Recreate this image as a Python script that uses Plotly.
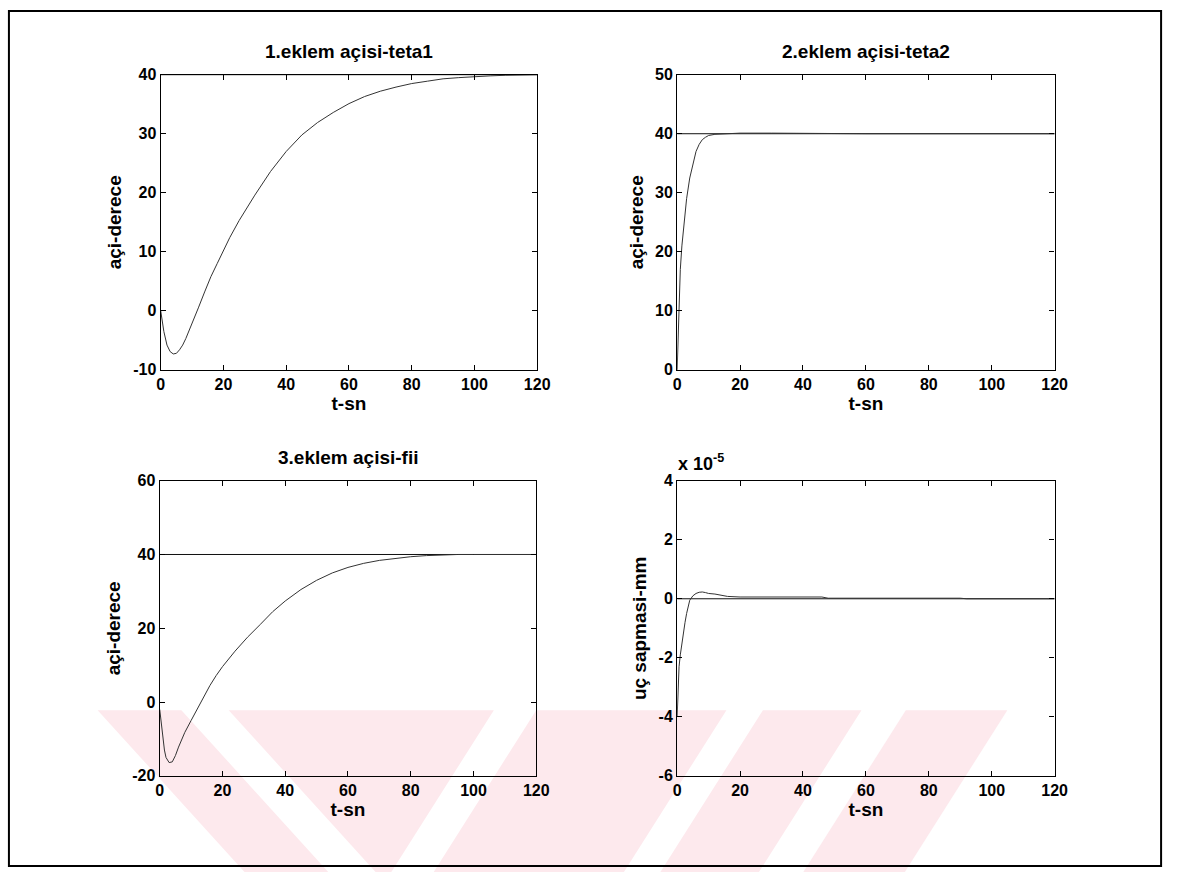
import plotly.graph_objects as go

W, H = 1180, 881


def fx(px):
    return px / W


def fy(py):
    return 1 - py / H


# ---------------- data ----------------
t1 = [0, 1, 2, 3, 4, 5, 6, 7, 8, 10, 12, 14, 16, 18, 20, 22, 25, 28, 30, 35, 40, 45, 50, 55, 60,
      65, 70, 75, 80, 85, 90, 95, 100, 105, 110, 115, 120]
teta1 = [0, -3.5, -5.8, -6.9, -7.3, -7.2, -6.6, -5.8, -4.7, -2.2, 0.5, 3.2, 5.8, 8.0, 10.2, 12.4,
         15.3, 18.0, 19.6, 23.6, 27.0, 29.8, 31.9, 33.6, 35.1, 36.3, 37.2, 37.9, 38.5, 38.9, 39.3,
         39.5, 39.7, 39.8, 39.9, 40.0, 40.0]

t2 = [0, 0.3, 0.6, 1.0, 1.5, 2.0, 2.5, 3.0, 4.0, 5.0, 6.0, 7.0, 8.0, 9.0, 10, 12, 15, 20, 30, 40,
      60, 120]
teta2 = [0, 6, 12, 17, 21, 23.5, 26.5, 29, 32.5, 35, 37, 38.2, 39, 39.4, 39.7, 39.9, 40.0, 40.1,
         40.1, 40.05, 40.0, 40.0]

t3 = [0, 0.5, 1, 1.5, 2, 3, 4, 5, 6, 8, 10, 12, 14, 16, 18, 20, 24, 28, 32, 36, 40, 45, 50, 55,
      60, 65, 70, 75, 80, 85, 90, 95, 100, 120]
fii = [-2, -6, -10, -13, -15, -16.4, -16.2, -14.5, -12.2, -8.2, -5, -1.8, 1.5, 4.5, 7.2, 9.6,
       13.8, 17.6, 21.0, 24.5, 27.4, 30.5, 33.0, 35.0, 36.5, 37.6, 38.4, 39.0, 39.4, 39.7, 39.9,
       40.0, 40.0, 40.0]

t4 = [0, 0.3, 0.6, 1.0, 1.5, 2.0, 2.5, 3.0, 3.5, 4.0, 5.0, 6.0, 7.0, 8.0, 9.0, 10, 12, 14, 16,
      20, 30, 40, 46, 48, 60, 70, 80, 90, 92, 105, 120]
sapma = [-4.0, -3.0, -2.3, -1.9, -1.5, -1.1, -0.8, -0.5, -0.25, -0.05, 0.1, 0.18, 0.22, 0.23,
         0.21, 0.18, 0.16, 0.12, 0.08, 0.06, 0.06, 0.07, 0.06, 0.02, 0.02, 0.03, 0.03, 0.02, 0.0,
         0.0, 0.0]  # units of 1e-5 mm

t_ref = [0, 120]
ref_teta1 = [40, 40]
ref_teta2 = [40, 40]
ref_fii = [40, 40]
ref_sapma = [0, 0]

titles = ["1.eklem açisi-teta1", "2.eklem açisi-teta2", "3.eklem açisi-fii", ""]
ylabels = ["açi-derece", "açi-derece", "açi-derece", "uç sapmasi-mm"]
xlabel = "t-sn"
x_ticks = [0, 20, 40, 60, 80, 100, 120]
y_ticks = [[-10, 0, 10, 20, 30, 40], [0, 10, 20, 30, 40, 50],
           [-20, 0, 20, 40, 60], [-6, -4, -2, 0, 2, 4]]
y_ranges = [[-10, 40], [0, 50], [-20, 60], [-6, 4]]

# ---------------- layout geometry (pixels) ----------------
boxes = [  # left, right, top, bottom
    (159, 541, 68, 369),
    (683, 1066, 68, 369),
    (158, 540, 482, 783),
    (683, 1066, 482, 783),
]

FONT = "Liberation Sans, Arial, Helvetica, sans-serif"
fig = go.Figure()

series = [(t1, teta1, ref_teta1), (t2, teta2, ref_teta2), (t3, fii, ref_fii), (t4, sapma, ref_sapma)]
for i, (tx, vy, ref) in enumerate(series):
    xa = "x" if i == 0 else f"x{i+1}"
    ya = "y" if i == 0 else f"y{i+1}"
    fig.add_trace(go.Scatter(x=t_ref, y=ref, mode="lines", xaxis=xa, yaxis=ya,
                             line=dict(color="#111111", width=1), showlegend=False, hoverinfo="skip"))
    fig.add_trace(go.Scatter(x=tx, y=vy, mode="lines", xaxis=xa, yaxis=ya,
                             line=dict(color="#333333", width=1), showlegend=False))

tick_font = dict(family=FONT, size=16, color="black", weight="bold")
label_font = dict(family=FONT, size=19, color="black", weight="bold")
axis_common = dict(showgrid=False, zeroline=False, showline=True, linecolor="black", linewidth=1.3,
                   mirror="ticks", ticks="inside", ticklen=5, tickwidth=1, tickcolor="black",
                   tickfont=tick_font)


def fmt(v):
    return str(v)  # plain hyphen minus, as in the reference


for i, (l, r, tp, b) in enumerate(boxes):
    sx = "" if i == 0 else str(i + 1)
    fig.layout[f"xaxis{sx}"] = dict(axis_common, domain=[fx(l), fx(r)], range=[0, 120],
                                    tickvals=x_ticks, ticktext=[fmt(v) for v in x_ticks],
                                    anchor=f"y{sx}",
                                    title=dict(text=xlabel, standoff=4, font=label_font))
    fig.layout[f"yaxis{sx}"] = dict(axis_common, domain=[fy(b), fy(tp)], range=y_ranges[i],
                                    tickvals=y_ticks[i], ticktext=[fmt(v) for v in y_ticks[i]],
                                    anchor=f"x{sx}",
                                    title=dict(text=ylabels[i], standoff=6, font=label_font))
    if titles[i]:
        fig.add_annotation(text=titles[i], xref="paper", yref="paper", x=fx((l + r) / 2),
                           y=fy(tp - 11), xanchor="center", yanchor="bottom", showarrow=False,
                           font=label_font)

fig.add_annotation(text="x 10<sup>-5</sup>", xref="paper", yref="paper", x=fx(682), y=fy(477),
                   xanchor="left", yanchor="bottom", showarrow=False,
                   font=dict(family=FONT, size=18, color="black", weight="bold"))

# watermark (faint pink chevrons from the scanned page)
wm_polys = [
    [(95, 716), (180, 716), (329, 881), (244, 881)],
    [(228, 716), (497, 716), (393, 881), (377, 881)],
    [(540, 716), (733, 716), (629, 881), (436, 881)],
    [(770, 716), (870, 716), (766, 881), (666, 881)],
    [(915, 716), (1018, 716), (914, 881), (811, 881)],
]
shapes = []
for poly in wm_polys:
    path = "M " + " L ".join(f"{fx(px):.5f},{fy(py):.5f}" for px, py in poly) + " Z"
    shapes.append(dict(type="path", path=path, xref="paper", yref="paper", layer="below",
                       fillcolor="#fde9ed", line=dict(width=0)))
# outer frame
shapes.append(dict(type="rect", xref="paper", yref="paper", x0=fx(5), x1=fx(1174), y0=fy(875),
                   y1=fy(3), line=dict(color="black", width=2), fillcolor="rgba(0,0,0,0)",
                   layer="above"))

fig.update_layout(width=W, height=H, margin=dict(l=0, r=0, t=0, b=0), paper_bgcolor="white",
                  plot_bgcolor="rgba(0,0,0,0)", shapes=shapes, showlegend=False,
                  font=dict(family=FONT, color="black"))

fig.write_html("out.html")
